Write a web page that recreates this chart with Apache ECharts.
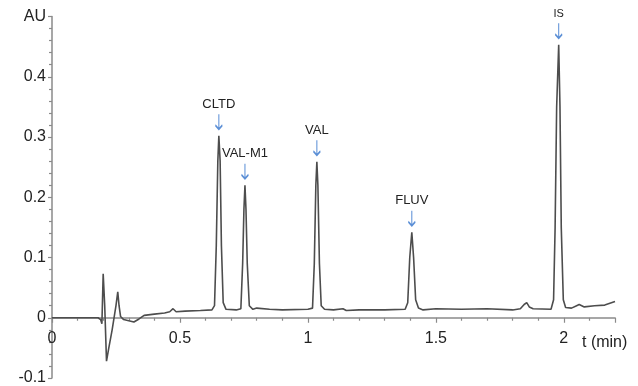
<!DOCTYPE html>
<html>
<head>
<meta charset="utf-8">
<script src="https://cdn.jsdelivr.net/npm/echarts@6/dist/echarts.min.js"></script>
<style>
  html, body { margin: 0; padding: 0; background: #fff; }
  #chart { width: 638px; height: 386px; }
</style>
</head>
<body>
<div id="chart"></div>
<script>
// chromatogram trace (time in min, absorbance in AU)
var traceTime = [
    0, 0.18, 0.19, 0.195, 0.2, 0.206, 0.213, 0.222, 0.235, 0.25, 0.257, 0.262, 0.268, 0.28, 0.3, 0.32, 0.34, 0.36,
    0.4, 0.44, 0.46, 0.473, 0.485, 0.52, 0.58, 0.625,
    0.635, 0.642, 0.648, 0.652, 0.657, 0.662, 0.669, 0.68, 0.72,
    0.738, 0.745, 0.75, 0.754, 0.758, 0.763, 0.771, 0.785, 0.8, 0.85, 0.9, 1.0,
    1.018, 1.025, 1.031, 1.035, 1.039, 1.045, 1.052, 1.065, 1.1, 1.137, 1.15, 1.2, 1.3, 1.38,
    1.39, 1.398, 1.406, 1.413, 1.421, 1.432, 1.45, 1.5, 1.6, 1.7, 1.8, 1.83, 1.845, 1.855, 1.865, 1.88, 1.95,
    1.96, 1.966, 1.972, 1.98, 1.985, 1.99, 1.998, 2.007, 2.03, 2.05, 2.06, 2.08, 2.12, 2.16, 2.2
];
var traceAU = [
    0, 0, -0.003, -0.01, 0.073, 0.02, -0.072, -0.05, -0.02, 0.02, 0.043, 0.02, 0.002, -0.003, -0.005, -0.007, -0.002, 0.004,
    0.006, 0.008, 0.01, 0.015, 0.01, 0.011, 0.012, 0.013,
    0.02, 0.12, 0.26, 0.302, 0.26, 0.12, 0.025, 0.014, 0.013,
    0.015, 0.09, 0.18, 0.22, 0.18, 0.09, 0.02, 0.014, 0.016, 0.014, 0.013, 0.014,
    0.016, 0.09, 0.22, 0.259, 0.22, 0.09, 0.02, 0.014, 0.013, 0.015, 0.012, 0.013, 0.013, 0.014,
    0.025, 0.1, 0.142, 0.1, 0.03, 0.016, 0.013, 0.015, 0.014, 0.015, 0.013, 0.015, 0.022, 0.025, 0.018, 0.015, 0.014,
    0.03, 0.15, 0.35, 0.453, 0.35, 0.15, 0.03, 0.017, 0.016, 0.02, 0.022, 0.018, 0.02, 0.021, 0.027
];

// labelled peaks
var peakNames = ['CLTD', 'VAL-M1', 'VAL', 'FLUV', 'IS'];
var peakTimes = [0.652, 0.754, 1.035, 1.406, 1.98];
var peakTops = [0.302, 0.22, 0.259, 0.142, 0.453];

var yMin = -0.1, yMax = 0.5;
var gridTop = 16.5, gridBottom = 8, chartH = 386;

var arrowPath = 'path://M4,0 L4,15 M1,11 L4,15 L7,11';

var chart = echarts.init(document.getElementById('chart'));

var trace = traceTime.map(function (t, i) { return [t, traceAU[i]]; });
var peaks = peakNames.map(function (n, i) {
    return {
        value: [peakTimes[i], peakTops[i]],
        name: n,
        label: { fontSize: n === 'IS' ? 11 : 13 }
    };
});

// lift the time axis from the grid bottom up to AU = 0
var zeroLift = (chartH - gridTop - gridBottom) * (0 - yMin) / (yMax - yMin);

var option = {
    animation: false,
    grid: { left: 52, right: 23, top: gridTop, bottom: gridBottom, containLabel: false, outerBoundsMode: 'none' },
    xAxis: {
        type: 'value',
        min: 0,
        max: 2.2,
        interval: 0.5,
        offset: -zeroLift,
        name: 't (min)',
        nameLocation: 'end',
        nameGap: -33,
        nameTextStyle: {
            color: '#222', fontSize: 16, fontFamily: 'Liberation Sans, Arial',
            align: 'left', verticalAlign: 'top', padding: [17, 0, 0, 0]
        },
        axisLine: { onZero: false, lineStyle: { color: '#8a8a8a', width: 1.5 } },
        axisTick: { show: true, length: 5, lineStyle: { color: '#8a8a8a', width: 1.2 } },
        minorTick: { show: true, splitNumber: 5, length: 3, lineStyle: { color: '#8a8a8a', width: 1.2 } },
        axisLabel: {
            color: '#222', fontSize: 16, fontFamily: 'Liberation Sans, Arial', margin: 13,
            formatter: function (v) { return v > 2.1 ? '' : String(v); }
        },
        splitLine: { show: false }
    },
    yAxis: {
        type: 'value',
        min: yMin,
        max: yMax,
        interval: 0.1,
        axisLine: { show: true, onZero: false, lineStyle: { color: '#8a8a8a', width: 1.5 } },
        axisTick: { show: true, length: 4, lineStyle: { color: '#8a8a8a', width: 1.2 } },
        minorTick: { show: true, splitNumber: 5, length: 3, lineStyle: { color: '#8a8a8a', width: 1.2 } },
        axisLabel: {
            color: '#222', fontSize: 16, fontFamily: 'Liberation Sans, Arial', margin: 6,
            formatter: function (v) {
                if (Math.abs(v - 0.5) < 1e-9) return 'AU';
                return String(Math.round(v * 10) / 10);
            }
        },
        splitLine: { show: false }
    },
    series: [
        {
            type: 'line',
            data: trace,
            showSymbol: false,
            lineStyle: { color: '#4d4d4d', width: 1.6 },
            z: 3
        },
        {
            type: 'scatter',
            data: peaks,
            symbol: arrowPath,
            symbolSize: [7, 15],
            symbolOffset: [0, -14],
            itemStyle: { color: 'none', borderColor: '#5b8fd6', borderWidth: 1.5, opacity: 1 },
            label: {
                show: true,
                position: 'top',
                distance: 0,
                formatter: '{b}',
                color: '#222',
                fontFamily: 'Liberation Sans, Arial'
            },
            silent: true,
            z: 4
        }
    ]
};

chart.setOption(option);
</script>
</body>
</html>
